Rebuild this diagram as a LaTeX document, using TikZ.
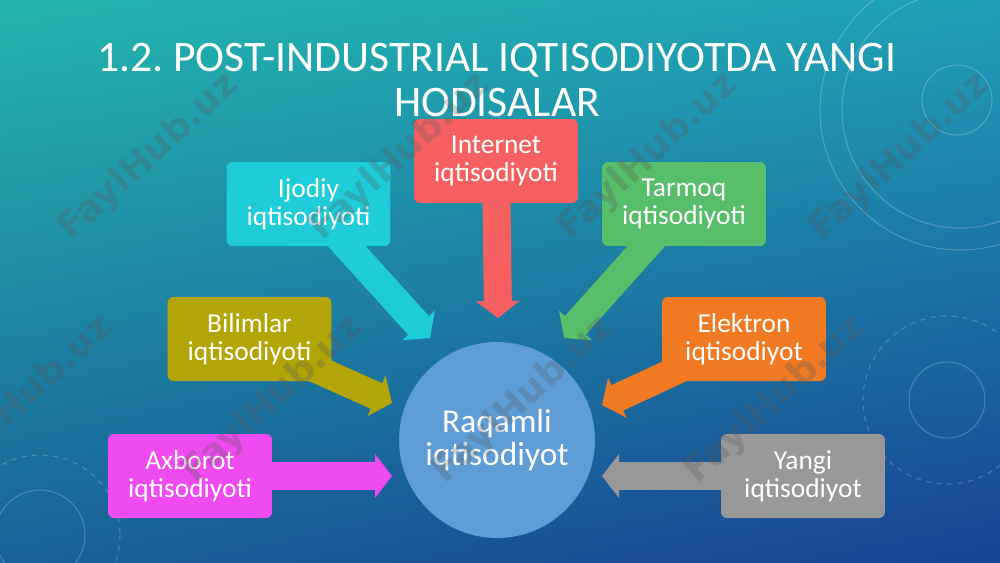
\documentclass[tikz,border=0pt]{standalone}
\usepackage{fontspec}
\setmainfont{Carlito}
\newfontfamily\markfont{DejaVu Sans}
\usepackage{tikz}
\usetikzlibrary{arrows.meta, positioning, shadings}
\pgfdeclarelayer{back}
\pgfdeclarelayer{under}
\pgfsetlayers{back,under,main}
\frenchspacing
\definecolor{bgtl}{RGB}{34,182,174}
\definecolor{bgtr}{RGB}{30,160,182}
\definecolor{bgbl}{RGB}{26,98,152}
\definecolor{bgbr}{RGB}{24,66,146}
\definecolor{internetcol}{RGB}{247,96,96}
\definecolor{ijodiycol}{RGB}{30,205,215}
\definecolor{tarmoqcol}{RGB}{88,190,105}
\definecolor{bilimlarcol}{RGB}{178,165,5}
\definecolor{axborotcol}{RGB}{240,75,240}
\definecolor{elektroncol}{RGB}{242,122,35}
\definecolor{yangicol}{RGB}{152,152,152}
\definecolor{hubcol}{RGB}{95,157,215}
\tikzstyle{box} = [rectangle, rounded corners=0.12cm, minimum width=3.28cm, minimum height=1.68cm, inner sep=0pt, text=white, align=center, font=\fontsize{15.6}{16}\selectfont]
\tikzstyle{pointer} = [draw, line width=0.56cm, -{Triangle[width=0.88cm, length=0.34cm, line width=0pt]}]
\tikzstyle{ring} = [draw=white, opacity=0.22, line width=0.6pt]
\tikzstyle{wmark} = [rotate=42.5, text=black!65, opacity=0.28, font=\markfont\bfseries\fontsize{21}{21}\selectfont]

\begin{document}
\begin{tikzpicture}[x=0.02cm, y=-0.02cm]
  \useasboundingbox (0,0) rectangle (1000,562);
  \begin{pgfonlayer}{back}
  \shade[upper left=bgtl, upper right=bgtr, lower left=bgbl, lower right=bgbr] (0,0) rectangle (1000,562);
  \draw [ring] (960,110) circle (140);
  \draw [ring] (960,110) circle (118);
  \draw [ring] (957,100) circle (35);
  \draw [ring, dashed] (947,400) circle (84);
  \draw [ring] (947,400) circle (38);
  \draw [ring] (40,535) circle (45);
  \draw [ring, dashed] (40,535) circle (80);
  \end{pgfonlayer}

  \node (title) [text=white, align=center, inner sep=0pt, font=\fontsize{24.8}{26}\selectfont] at (497,80) {1.2. POST-INDUSTRIAL IQTISODIYOTDA YANGI\\HODISALAR};

  \node (hub) [circle, fill=hubcol, minimum size=3.92cm, text=white, align=center, font=\fontsize{19}{18.7}\selectfont] at (497,440) {Raqamli\\iqtisodiyot};

  \node (internet) [box, fill=internetcol] at (496,161) {Internet\\iqtisodiyoti};
  \node (ijodiy) [box, fill=ijodiycol] at (308.5,204) {Ijodiy\\iqtisodiyoti};
  \node (tarmoq) [box, fill=tarmoqcol] at (684,204) {Tarmoq\\iqtisodiyoti};
  \node (bilimlar) [box, fill=bilimlarcol] at (249.5,339) {Bilimlar\\iqtisodiyoti};
  \node (elektron) [box, fill=elektroncol] at (744,339) {Elektron\\iqtisodiyot};
  \node (axborot) [box, fill=axborotcol] at (190,476) {Axborot\\iqtisodiyoti};
  \node (yangi) [box, fill=yangicol] at (803,476) {Yangi\\iqtisodiyot};

  \coordinate (internettip) at (498,318);
  \coordinate (ijodiytip) at (430,338);
  \coordinate (tarmoqtip) at (564,338);
  \coordinate (bilimlartip) at (392,403);
  \coordinate (elektrontip) at (602,405);
  \coordinate (axborottip) at (392,476);
  \coordinate (yangitip) at (602,476);

  \begin{pgfonlayer}{under}
  \draw [pointer, internetcol] (internet.center) -- (internettip);
  \draw [pointer, ijodiycol] (ijodiy.center) -- (ijodiytip);
  \draw [pointer, tarmoqcol] (tarmoq.center) -- (tarmoqtip);
  \draw [pointer, bilimlarcol] (bilimlar.center) -- (bilimlartip);
  \draw [pointer, elektroncol] (elektron.center) -- (elektrontip);
  \draw [pointer, axborotcol] (axborot.center) -- (axborottip);
  \draw [pointer, yangicol] (yangi.center) -- (yangitip);
  \end{pgfonlayer}

  \foreach \x/\y [count=\i] in {149/157, 400/157, 648/157, 900/157, 23/400, 273/400, 523/400, 775/400}
    \node (fh\i) [wmark] at (\x,\y) {FaylHub.uz};
\end{tikzpicture}
\end{document}
